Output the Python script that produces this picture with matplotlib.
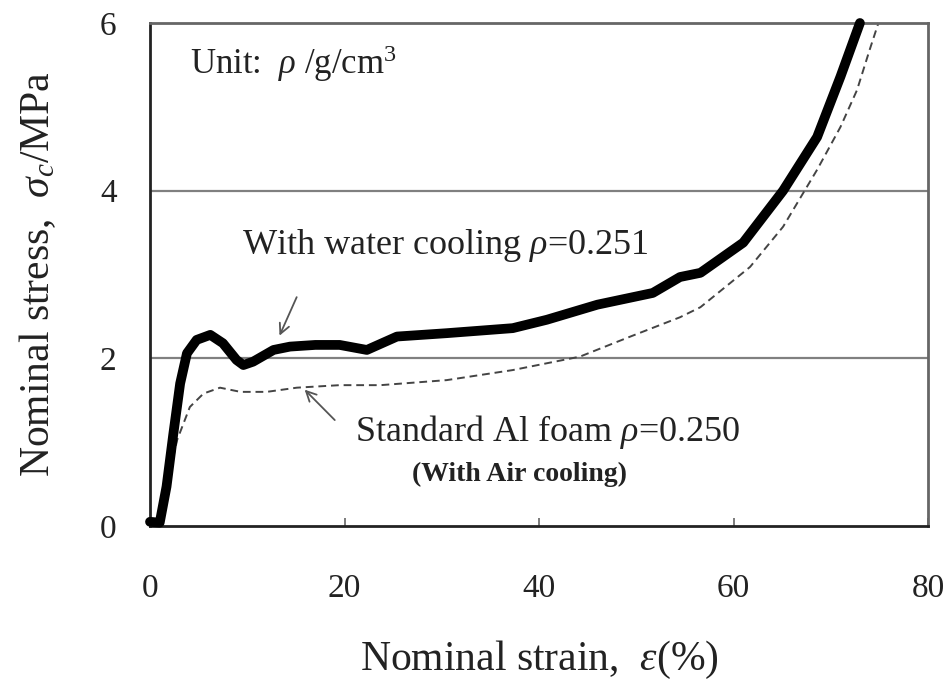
import matplotlib
matplotlib.use("Agg")
import matplotlib.pyplot as plt

plt.rcParams['font.family'] = ['Liberation Serif', 'DejaVu Serif']
plt.rcParams['mathtext.fontset'] = 'custom'
plt.rcParams['mathtext.rm'] = 'Liberation Serif'
plt.rcParams['mathtext.it'] = 'Liberation Serif:italic'

# Water cooling (rho=0.251)
water_strain = [0.0, 1.0, 1.7, 2.4, 3.1, 3.8, 4.8, 6.2, 7.5, 8.9, 9.6, 10.6, 12.7, 14.4,
                17.0, 19.5, 22.3, 25.4, 30.5, 37.3, 40.8, 46.0, 51.7, 54.5, 56.6,
                61.0, 65.1, 68.6, 71.0, 73.0]
water_stress = [0.05, 0.04, 0.47, 1.10, 1.70, 2.06, 2.22, 2.28, 2.18, 1.98, 1.92, 1.96, 2.10, 2.14,
                2.16, 2.16, 2.10, 2.26, 2.30, 2.36, 2.46, 2.64, 2.78, 2.97, 3.02,
                3.38, 4.00, 4.64, 5.36, 6.00]

# Standard Al foam (rho=0.250, air cooling)
std_strain = [0.0, 1.0, 1.7, 2.8, 4.1, 5.5, 7.2, 9.3, 12.0, 15.1, 19.5, 23.7, 30.5, 37.3,
              44.2, 49.4, 54.5, 56.6, 61.7, 65.1, 68.6, 71.0, 72.7, 74.0, 74.9]
std_stress = [0.05, 0.04, 0.47, 1.03, 1.42, 1.58, 1.65, 1.60, 1.60, 1.65, 1.68, 1.68, 1.74, 1.86,
              2.02, 2.26, 2.49, 2.61, 3.09, 3.57, 4.25, 4.76, 5.20, 5.68, 6.00]

x_ticks = [0, 20, 40, 60, 80]
y_ticks = [0, 2, 4, 6]

TXT = '#222222'

fig = plt.figure(figsize=(9.51, 6.79), dpi=100)
ax = fig.add_axes([150/951, 1-526/679, (928-150)/951, (526-23)/679])

ax.set_xlim(0, 80)
ax.set_ylim(0, 6)
ax.set_xticks(x_ticks)
ax.set_yticks(y_ticks)

for yv in [2, 4]:
    ax.axhline(yv, color='#808080', lw=1.6, zorder=1)

ax.plot(std_strain, std_stress, color='#444444', lw=1.4, ls=(0, (4, 2.5)), zorder=2, clip_on=False)
ax.plot(water_strain, water_stress, color='black', lw=7, solid_capstyle='round',
        solid_joinstyle='round', zorder=3, clip_on=False)

for side in ['left', 'bottom']:
    ax.spines[side].set_color('#222222')
    ax.spines[side].set_linewidth(2.0)
for side in ['top', 'right']:
    ax.spines[side].set_color('#666666')
    ax.spines[side].set_linewidth(2.0)

ax.tick_params(axis='x', direction='in', length=6, width=1.2, color='#666666',
               labelsize=24, pad=34, labelcolor=TXT)
ax.tick_params(axis='y', length=0, labelsize=24, pad=24, labelcolor=TXT)

ax.set_xlabel('Nominal strain,  $\\mathit{\\varepsilon}$(%)', fontsize=30, labelpad=25, color=TXT)
ax.set_ylabel('Nominal stress,  $\\mathit{\\sigma_c}$/MPa', fontsize=30, labelpad=30, color=TXT)

ax.text(4.1, 5.51, 'Unit:  $\\mathit{\\rho}$ /g/cm$^3$', fontsize=25, va='center', ha='left', color=TXT)
ax.text(9.5, 3.35, 'With water cooling $\\mathit{\\rho}$=0.251', fontsize=26, va='center', ha='left', color=TXT)
ax.text(21.1, 1.12, 'Standard Al foam $\\mathit{\\rho}$=0.250', fontsize=26, va='center', ha='left', color=TXT)
ax.text(38.0, 0.61, '(With Air cooling)', fontsize=20, va='center', ha='center', color=TXT,
        fontweight='bold')

ax.annotate('', xy=(13.2, 2.24), xytext=(15.2, 2.76),
            arrowprops=dict(arrowstyle='->', color='#555555', lw=1.3, mutation_scale=18))
ax.annotate('', xy=(15.7, 1.65), xytext=(19.2, 1.24),
            arrowprops=dict(arrowstyle='->', color='#555555', lw=1.3, mutation_scale=18))

fig.savefig('out.png', dpi=100)
